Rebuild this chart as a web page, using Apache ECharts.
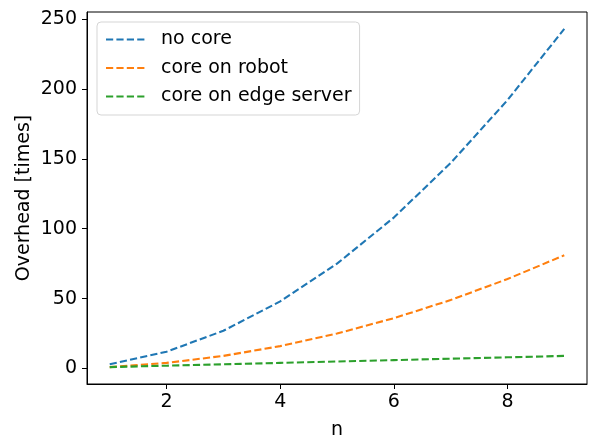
<!DOCTYPE html>
<html>
<head>
<meta charset="utf-8">
<script src="https://cdn.jsdelivr.net/npm/echarts@6/dist/echarts.min.js"></script>
<style>html,body{margin:0;padding:0;background:#fff;}#c{width:589px;height:438px;}</style>
</head>
<body>
<div id="c"></div>
<script>
const nValues = [1, 2, 3, 4, 5, 6, 7, 8, 9];
const noCore = [3, 12, 27, 48, 75, 108, 147, 192, 243];
const coreOnRobot = [1, 4, 9, 16, 25, 36, 49, 64, 81];
const coreOnEdge = [1, 2, 3, 4, 5, 6, 7, 8, 9];
const xTicks = [2, 4, 6, 8];
const yTicks = [0, 50, 100, 150, 200, 250];
const seriesNames = ['no core', 'core on robot', 'core on edge server'];
const colors = ['#1f77b4', '#ff7f0e', '#2ca02c'];

const font = 'DejaVu Sans';
const fs = 19;
const chart = echarts.init(document.getElementById('c'), null, {renderer: 'canvas'});
const mk = (name, vals, color) => ({
  name: name,
  type: 'line',
  data: nValues.map((n, i) => [n, vals[i]]),
  symbol: 'none',
  color: color,
  lineStyle: {color: color, width: 2.1, type: [7.2, 3.2]},
  animation: false
});
chart.setOption({
  animation: false,
  grid: {left: 87, right: 2, top: 12, bottom: 54, show: true, borderColor: '#000', borderWidth: 1,
         containLabel: false, outerBoundsMode: 'none'},
  legend: {
    orient: 'vertical', left: 97, top: 22,
    padding: [8, 8, 9, 8],
    itemWidth: 40, itemHeight: 14, itemGap: 9.5,
    itemStyle: {opacity: 0},
    backgroundColor: 'rgba(255,255,255,0.8)',
    borderColor: '#d5d5d5', borderWidth: 1, borderRadius: 4,
    textStyle: {fontFamily: font, fontSize: fs, color: '#000', padding: [0, 0, 0, 10]},
    data: seriesNames
  },
  xAxis: {
    type: 'value', min: 0.6, max: 9.4,
    name: 'n', nameLocation: 'middle', nameGap: 37, nameMoveOverlap: false,
    nameTextStyle: {fontFamily: font, fontSize: fs, color: '#000'},
    axisLine: {show: true, onZero: false, lineStyle: {color: '#000', width: 1}},
    axisTick: {show: true, length: 5, customValues: xTicks, lineStyle: {color: '#000'}},
    axisLabel: {customValues: xTicks, fontFamily: font, fontSize: fs, color: '#000', margin: 9},
    splitLine: {show: false}
  },
  yAxis: {
    type: 'value', min: -11.1, max: 255.1,
    name: 'Overhead [times]', nameLocation: 'middle', nameGap: 53, nameMoveOverlap: false,
    nameTextStyle: {fontFamily: font, fontSize: fs, color: '#000'},
    axisLine: {show: true, onZero: false, lineStyle: {color: '#000', width: 1}},
    axisTick: {show: true, length: 5, customValues: yTicks, lineStyle: {color: '#000'}},
    axisLabel: {customValues: yTicks, fontFamily: font, fontSize: fs, color: '#000', margin: 10},
    splitLine: {show: false}
  },
  series: [
    mk(seriesNames[0], noCore, colors[0]),
    mk(seriesNames[1], coreOnRobot, colors[1]),
    mk(seriesNames[2], coreOnEdge, colors[2])
  ]
});
</script>
</body>
</html>
